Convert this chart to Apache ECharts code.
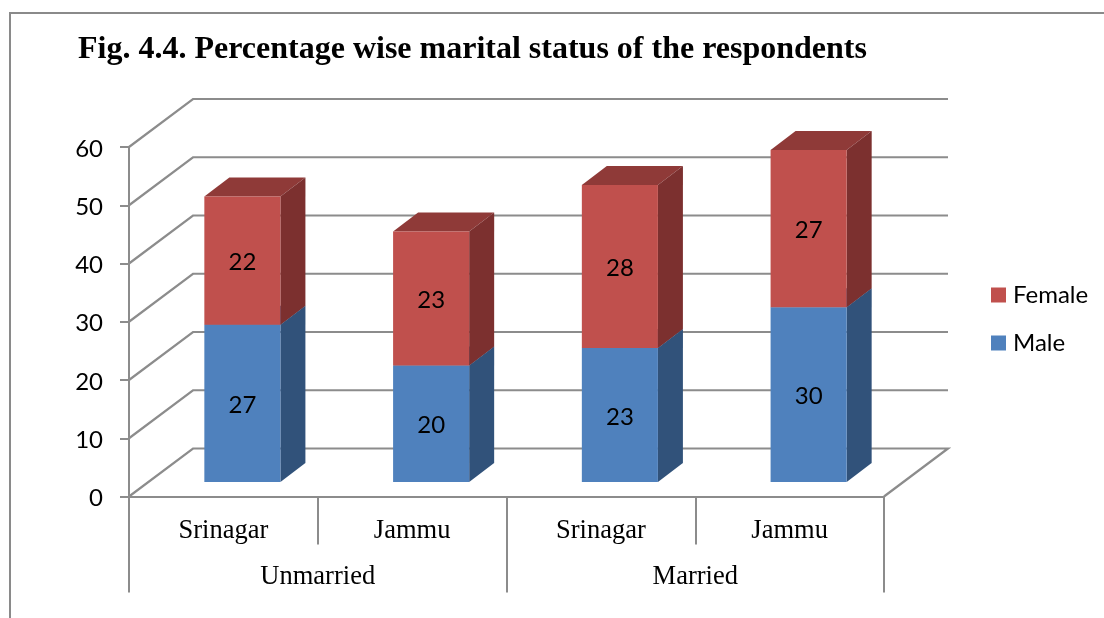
<!DOCTYPE html>
<html>
<head>
<meta charset="utf-8">
<script src="https://cdn.jsdelivr.net/npm/echarts@6/dist/echarts.min.js"></script>
<style>
    html, body { margin: 0; padding: 0; background: #fff; }
    #frame { position: absolute; left: 9px; top: 12px; width: 1095px; height: 606px; border-left: 2px solid #8a8a8a; border-top: 2px solid #8a8a8a; box-sizing: border-box; }
    #main { position: absolute; left: 0; top: 0; width: 1104px; height: 618px; }
</style>
</head>
<body>
<div id="frame"></div>
<div id="main"></div>
<script>
var places = ['Srinagar', 'Jammu', 'Srinagar', 'Jammu'];
var groups = ['Unmarried', 'Married'];
var male = [27, 20, 23, 30];
var female = [22, 23, 28, 27];
var yTicks = [0, 10, 20, 30, 40, 50, 60];

var gray = '#8c8c8c';
var calibriLike = 'Lato';
var serif = '"Liberation Serif"';
// floor depth in px, and where the bars sit on it
var wallDx = 64, wallDy = 48;
var barDx = 19, barDy = 14.5;
var depthDx = 25, depthDy = 19;

function renderWall(params, api) {
    var cs = params.coordSys;
    var y = api.coord([0, api.value(0)])[1];
    var left = cs.x, right = cs.x + cs.width;
    var points = [[left, y], [left + wallDx, y - wallDy], [right + wallDx, y - wallDy]];
    if (api.value(0) === 0) points.push([right, y]);
    return {
        type: 'polyline',
        shape: { points: points },
        style: { stroke: gray, lineWidth: 2.2, fill: null }
    };
}

function barRenderer(colors) {
    return function (params, api) {
        var i = api.value(0);
        var bottom = api.coord([i, api.value(1)]);
        var top = api.coord([i, api.value(2)]);
        var w = api.size([1, 0])[0] * 0.403;
        var x0 = bottom[0] + barDx - w / 2, x1 = x0 + w;
        var y0 = bottom[1] - barDy, y1 = top[1] - barDy;
        return {
            type: 'group',
            children: [{
                type: 'polygon',
                shape: { points: [[x0, y1], [x1, y1], [x1 + depthDx, y1 - depthDy], [x0 + depthDx, y1 - depthDy]] },
                style: { fill: colors.top }
            }, {
                type: 'polygon',
                shape: { points: [[x1, y0], [x1 + depthDx, y0 - depthDy], [x1 + depthDx, y1 - depthDy], [x1, y1]] },
                style: { fill: colors.side }
            }, {
                type: 'rect',
                shape: { x: x0, y: y1, width: w, height: y0 - y1 },
                style: { fill: colors.front }
            }, {
                type: 'text',
                style: {
                    x: (x0 + x1) / 2,
                    y: (y0 + y1) / 2 + 2,
                    text: String(api.value(2) - api.value(1)),
                    fill: '#000',
                    font: '24px ' + calibriLike,
                    align: 'center',
                    verticalAlign: 'middle'
                }
            }]
        };
    };
}

var maleData = male.map(function (v, i) { return [i, 0, v]; });
var femaleData = female.map(function (v, i) { return [i, male[i], male[i] + v]; });

var myChart = echarts.init(document.getElementById('main'));
myChart.setOption({
    animation: false,
    title: {
        text: 'Fig. 4.4. Percentage wise marital status of the respondents',
        left: 78,
        top: 34,
        padding: 0,
        textStyle: { fontFamily: serif, fontSize: 32, fontWeight: 'bold', color: '#000' }
    },
    legend: {
        data: ['Female', 'Male'],
        orient: 'vertical',
        left: 991,
        top: 283,
        padding: 0,
        itemWidth: 15,
        itemHeight: 15,
        itemGap: 24,
        icon: 'rect',
        selectedMode: false,
        textStyle: { fontFamily: calibriLike, fontSize: 24, color: '#000', padding: [0, 0, 0, 2] }
    },
    grid: { left: 129, right: 220, top: 147, bottom: 121.5 },
    xAxis: [{
        type: 'category',
        data: places,
        position: 'bottom',
        axisLine: { show: true, onZero: false, lineStyle: { color: gray, width: 2.2 } },
        axisTick: { show: true, length: 48, lineStyle: { color: gray, width: 2 } },
        axisLabel: { margin: 21, interval: 0, color: '#000', fontFamily: serif, fontSize: 26.5 }
    }, {
        type: 'category',
        data: groups,
        position: 'bottom',
        axisLine: { show: false },
        axisTick: { show: true, length: 96, lineStyle: { color: gray, width: 2 } },
        axisLabel: { margin: 67, interval: 0, color: '#000', fontFamily: serif, fontSize: 26.5 }
    }],
    yAxis: {
        type: 'value',
        min: 0,
        max: 60,
        interval: 10,
        splitLine: { show: false },
        axisLine: { show: true, lineStyle: { color: gray, width: 2 } },
        axisTick: { show: true, length: 9, lineStyle: { color: gray, width: 2 } },
        axisLabel: {
            margin: 26,
            formatter: '{n|{value}}',
            rich: { n: { color: '#000', fontFamily: calibriLike, fontSize: 24, padding: [4, 0, 0, 0] } }
        }
    },
    series: [{
        type: 'custom',
        name: 'wall',
        silent: true,
        z: 1,
        encode: { y: 0 },
        data: yTicks.map(function (v) { return [v]; }),
        renderItem: renderWall
    }, {
        type: 'custom',
        name: 'Male',
        z: 2,
        itemStyle: { color: '#4f81bd' },
        encode: { x: 0, y: [1, 2] },
        data: maleData,
        renderItem: barRenderer({ front: '#4f81bd', side: '#31527a', top: '#3a6291' })
    }, {
        type: 'custom',
        name: 'Female',
        z: 3,
        itemStyle: { color: '#c0504d' },
        encode: { x: 0, y: [1, 2] },
        data: femaleData,
        renderItem: barRenderer({ front: '#c0504d', side: '#7c302f', top: '#8f3a38' })
    }]
});
</script>
</body>
</html>
